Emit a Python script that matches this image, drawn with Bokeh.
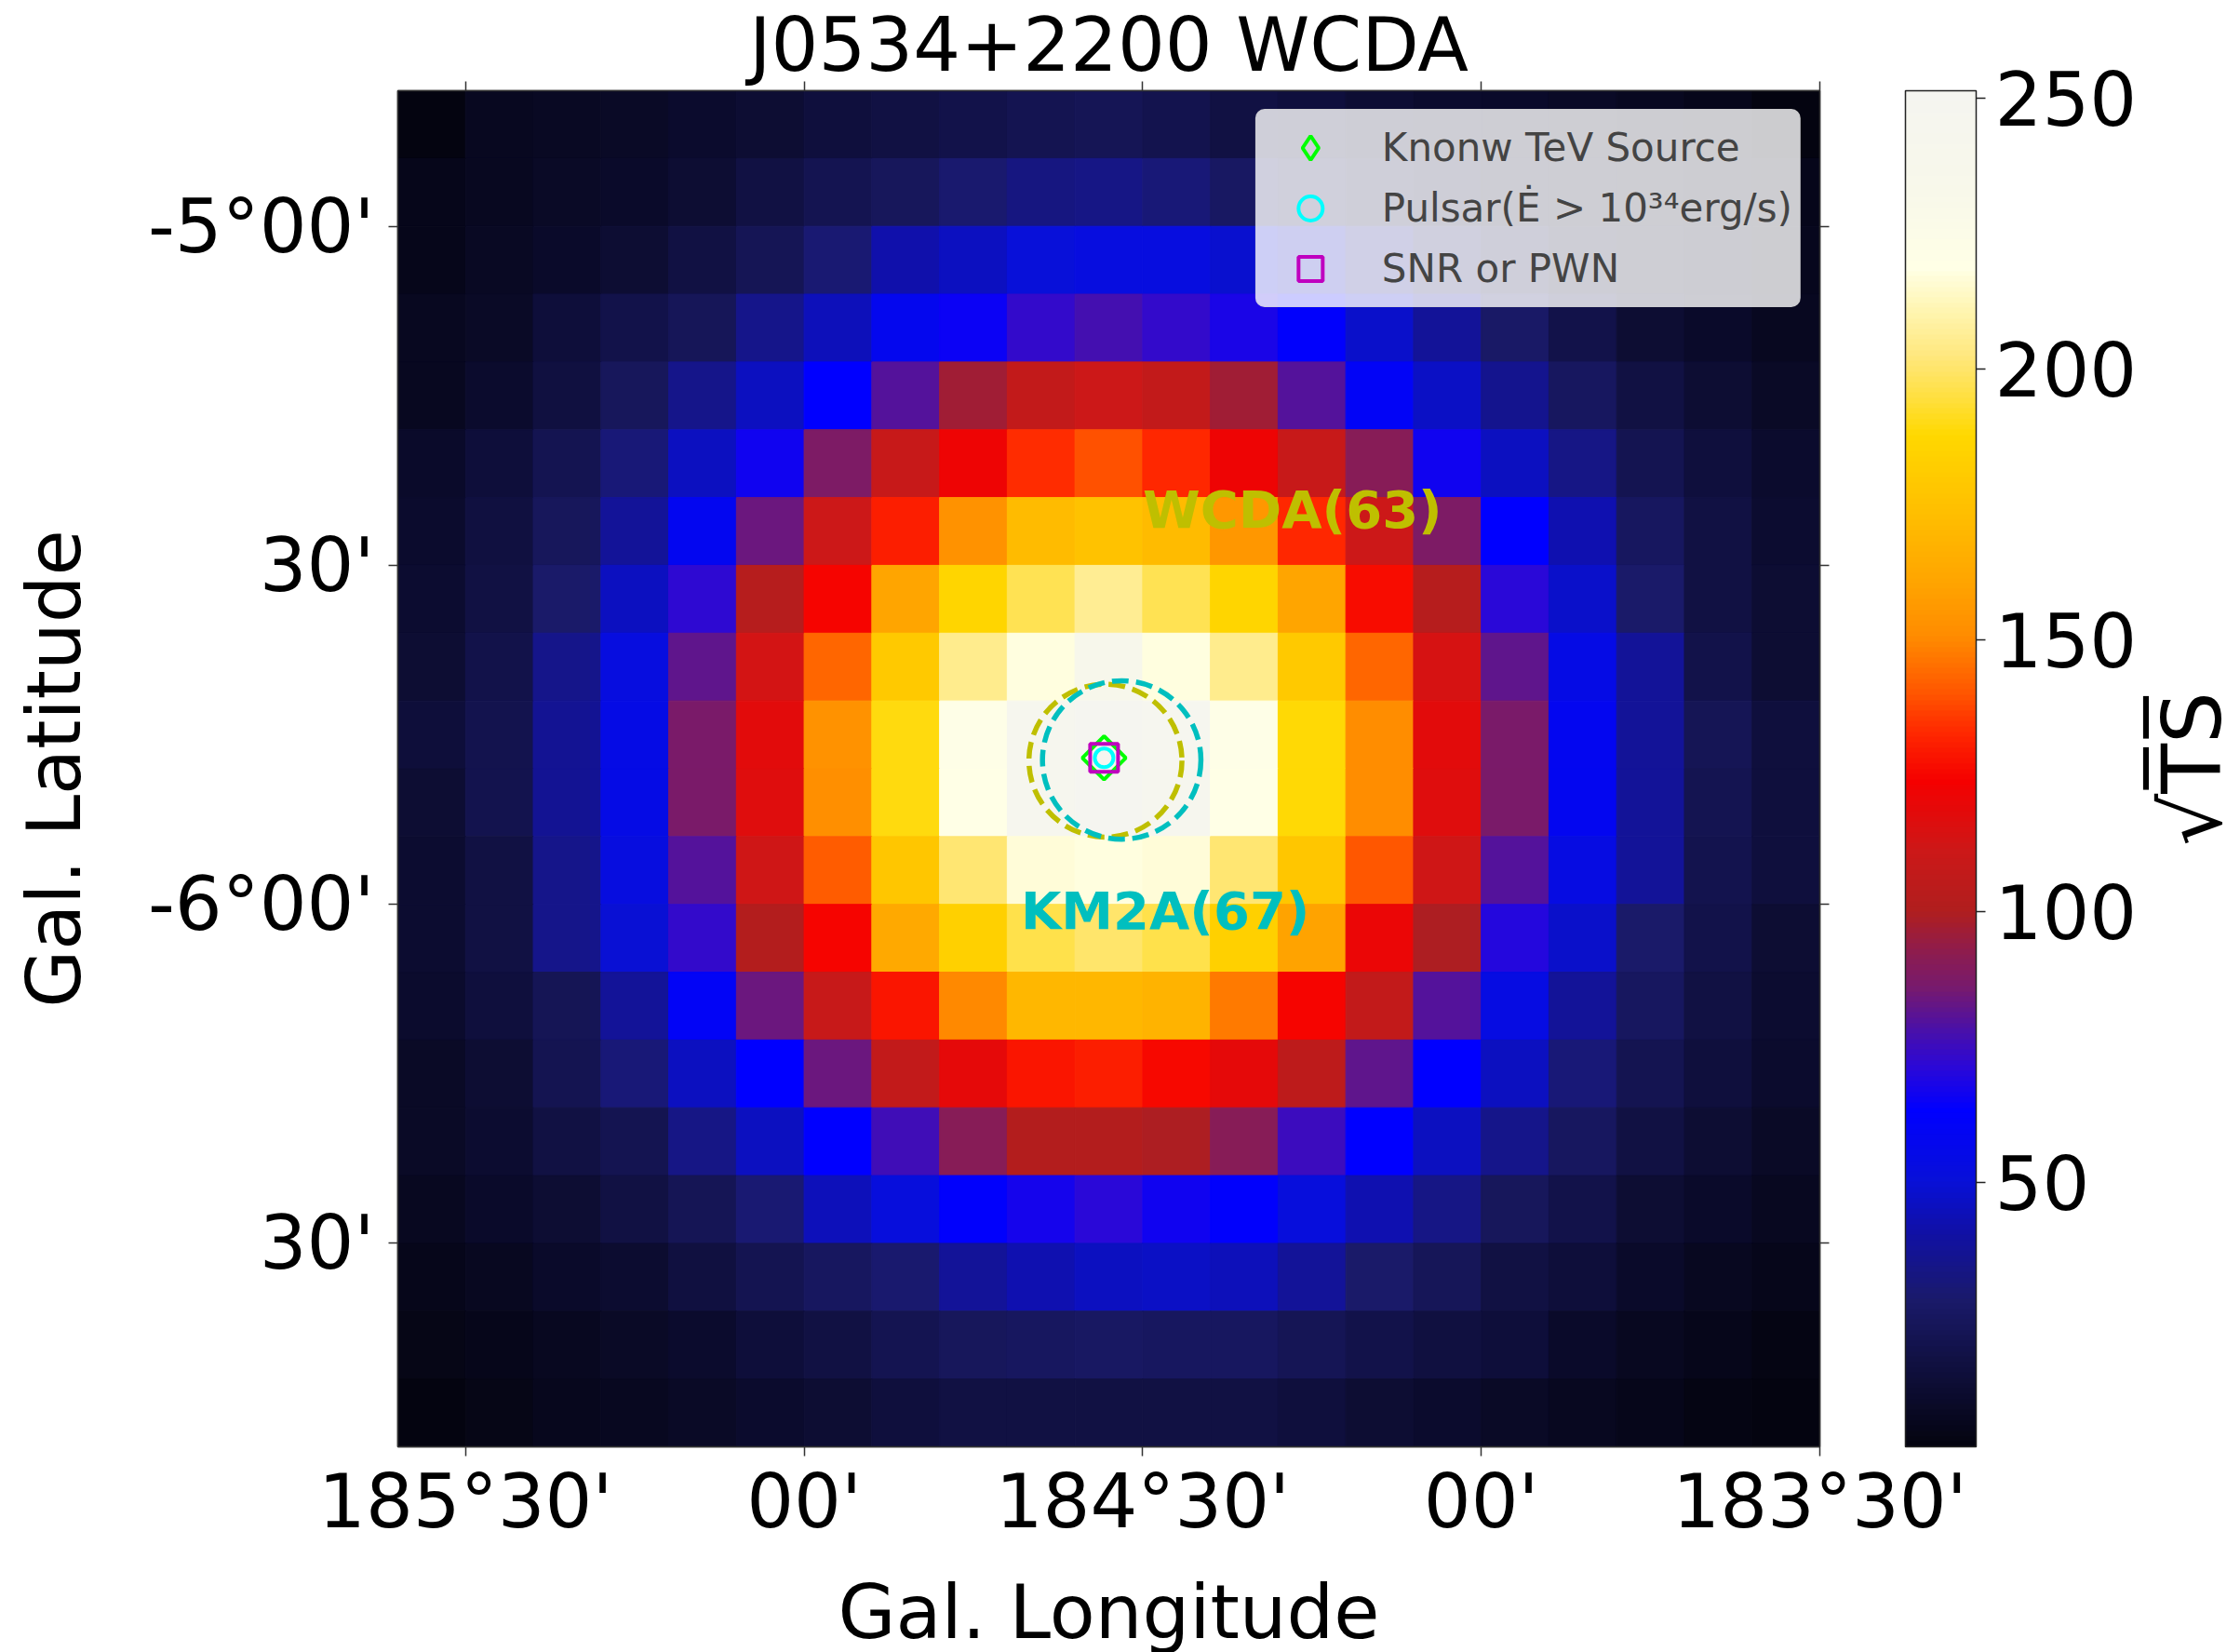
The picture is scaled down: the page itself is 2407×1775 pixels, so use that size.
import numpy as np
from bokeh.plotting import figure
from bokeh.models import (Range1d, FixedTicker, LinearAxis, LinearColorMapper, ColorBar,
                          ColumnDataSource, Legend, LegendItem)
from bokeh.layouts import row
from bokeh.transform import transform
from bokeh.core.properties import value
from bokeh.embed import file_html
from bokeh.resources import INLINE

FONT = "DejaVu Sans"

# ---- map grid: pixel centres (Galactic longitude / latitude, degrees) ----
lon_centers = [185.55, 185.45, 185.35, 185.25, 185.15, 185.05, 184.95, 184.85, 184.75, 184.65,
               184.55, 184.45, 184.35, 184.25, 184.15, 184.05, 183.95, 183.85, 183.75, 183.65, 183.55]
lat_centers = [-4.85, -4.95, -5.05, -5.15, -5.25, -5.35, -5.45, -5.55, -5.65, -5.75,
               -5.85, -5.95, -6.05, -6.15, -6.25, -6.35, -6.45, -6.55, -6.65, -6.75]
pixel_size = 0.1

# sqrt(TS) per pixel, one row per latitude (top to bottom), one column per longitude (left to right)
sqrt_ts = [
    [1.3, 7, 8, 9, 11, 13, 15, 17, 19, 21, 22, 20, 17, 15, 13, 11, 10, 9, 7, 5, 2],
    [5, 7, 9, 10, 13, 17, 21, 24, 29, 33, 34, 31, 26, 21, 17, 14, 11, 10, 9, 7, 5],
    [5, 8, 10, 13, 17, 22, 30, 42, 46, 51, 53, 53, 49, 45, 34, 25, 18, 13, 10, 8, 6],
    [7, 9, 14, 19, 23, 35, 45, 57, 65, 73, 77, 73, 68, 62, 48, 38, 27, 19, 13, 10, 7],
    [7, 11, 16, 24, 35, 46, 63, 80, 97, 107, 111, 107, 97, 80, 60, 47, 36, 25, 17, 13, 9],
    [10, 14, 21, 31, 46, 66, 88, 109, 122, 134, 139, 133, 122, 109, 91, 66, 46, 34, 21, 15, 11],
    [11, 16, 24, 38, 58, 84, 111, 131, 153, 172, 176, 172, 155, 133, 111, 88, 63, 43, 25, 17, 12],
    [12, 17, 28, 46, 72, 102, 125, 161, 186, 197, 206, 197, 186, 161, 127, 102, 71, 48, 28, 17, 13],
    [13, 19, 35, 53, 82, 113, 143, 180, 205, 218, 236, 218, 205, 180, 143, 114, 82, 55, 38, 19, 13],
    [14, 20, 37, 55, 87, 118, 153, 189, 221, 246, 251.3, 247, 221, 188, 151, 118, 87, 58, 38, 22, 15],
    [13, 20, 37, 55, 87, 117, 152, 189, 220, 244, 250, 245, 220, 188, 151, 117, 87, 58, 38, 21, 15],
    [12, 17, 35, 53, 80, 112, 141, 178, 201, 217, 218, 217, 201, 178, 140, 112, 80, 54, 38, 20, 15],
    [12, 17, 35, 50, 73, 101, 125, 163, 183, 196, 200, 196, 183, 160, 121, 99, 70, 48, 28, 19, 13],
    [11, 15, 22, 38, 60, 84, 109, 129, 150, 170, 170, 168, 147, 125, 107, 80, 54, 38, 25, 17, 12],
    [9, 13, 21, 31, 46, 63, 84, 107, 119, 129, 131, 126, 119, 105, 82, 63, 46, 31, 21, 15, 11],
    [9, 12, 17, 21, 34, 46, 63, 76, 91, 101, 101, 99, 91, 75, 63, 46, 35, 25, 17, 13, 9],
    [7, 10, 13, 17, 22, 30, 45, 52, 62, 67, 71, 66, 62, 52, 43, 34, 24, 19, 13, 10, 7],
    [5, 7, 10, 12, 16, 21, 25, 29, 38, 43, 46, 47, 45, 38, 28, 23, 17, 14, 10, 7, 5],
    [4, 5, 7, 9, 11, 14, 17, 21, 24, 25, 26, 25, 25, 22, 19, 16, 14, 10, 7, 5, 3],
    [2, 4, 6, 7, 9, 11, 13, 15, 17, 17, 17, 17, 17, 15, 13, 11, 9, 7, 5, 3, 2],
]

# ---- catalogue counterparts ----
tev_l, tev_b = [184.557], [-5.784]
psr_l, psr_b = [184.557], [-5.784]
snr_l, snr_b = [184.557], [-5.784]

# fitted positions and extents
wcda_l, wcda_b, wcda_r = [184.555], [-5.788], [0.113]
km2a_l, km2a_b, km2a_r = [184.531], [-5.787], [0.117]
wcda_name, km2a_name = "WCDA(63)", "KM2A(67)"
wcda_text_l, wcda_text_b = 184.50, -5.418
km2a_text_l, km2a_text_b = 184.68, -6.009

# ---- axes ----
lon_ticks = [185.5, 185.0, 184.5, 184.0, 183.5]
lon_tick_labels = ["185°30'", "00'", "184°30'", "00'", "183°30'"]
lat_ticks = [-5.0, -5.5, -6.0, -6.5]
lat_tick_labels = ["-5°00'", "30'", "-6°00'", "30'"]
cbar_ticks = [50, 100, 150, 200, 250]
cbar_title = "√T\u0305S\u0305"

# ---- colour scale anchors (value, colour) ----
cmap_vals = [1.3, 16, 28, 41, 50, 63, 71, 78, 86, 92, 100, 111, 124, 133, 141, 151,
             161, 174, 188, 195, 203, 211, 219, 233, 251.3]
cmap_hex = ["#040410", "#101040", "#1a1a6a", "#1010a8", "#0810d8", "#0000ff", "#2a08d8",
            "#4a10a8", "#781a6c", "#8c1c50", "#b01e1e", "#cc1818", "#f50000", "#ff2800",
            "#ff5a00", "#ff8c00", "#ffa500", "#ffbf00", "#ffd800", "#ffe040", "#ffe880",
            "#fff5b0", "#ffffe6", "#f8f8ea", "#f5f5f0"]

# layout in pixels
PAGE_W, PAGE_H = 2407, 1775
FRAME_L, FRAME_T, FRAME_W, FRAME_H = 427, 97, 1528, 1457
BOTTOM = PAGE_H - FRAME_T - FRAME_H
MAIN_RIGHT = 345           # right-hand panels of the map: tick marks + colour bar
CB_GAP = 82                # empty space between the right tick marks and the colour bar
CB_W = 76

grid = np.array(sqrt_ts, dtype=float)
vmin, vmax = float(grid.min()), float(grid.max())


def _rgb(h):
    return [int(h[i:i + 2], 16) for i in (1, 3, 5)]


anchor_rgb = np.array([_rgb(h) for h in cmap_hex], dtype=float)
levels = np.linspace(vmin, vmax, 256)
palette = []
for v in levels:
    r, g, b = (int(round(np.interp(v, cmap_vals, anchor_rgb[:, k]))) for k in range(3))
    palette.append("#%02x%02x%02x" % (r, g, b))

mapper = LinearColorMapper(palette=palette, low=vmin, high=vmax)

xs, ys, vs = [], [], []
for i, lat in enumerate(lat_centers):
    for j, lon in enumerate(lon_centers):
        xs.append(lon)
        ys.append(lat)
        vs.append(sqrt_ts[i][j])
src = ColumnDataSource(dict(x=xs, y=ys, v=vs))

half = pixel_size / 2
x_range = Range1d(lon_centers[0] + half, lon_centers[-1] - half)
y_range = Range1d(lat_centers[-1] - half, lat_centers[0] + half)

p = figure(frame_width=FRAME_W, frame_height=FRAME_H,
           x_range=x_range, y_range=y_range,
           min_border_left=FRAME_L, min_border_top=FRAME_T,
           min_border_bottom=BOTTOM, min_border_right=MAIN_RIGHT,
           output_backend="svg", toolbar_location=None,
           title="J0534+2200 WCDA")
p.background_fill_color = "white"
p.border_fill_color = "white"
p.xgrid.visible = False
p.ygrid.visible = False
p.outline_line_color = "#333333"
p.outline_line_width = 1.5

p.title.align = "center"
p.title.text_font = FONT
p.title.text_font_size = "80px"
p.title.text_font_style = "normal"
p.title.text_color = "black"
p.title.standoff = -14

p.rect(x="x", y="y", width=pixel_size, height=pixel_size, source=src,
       fill_color=transform("v", mapper), line_color=transform("v", mapper),
       line_width=1)

# fitted extents
p.circle(x=wcda_l, y=wcda_b, radius=wcda_r, fill_color=None,
         line_color="#bfbf00", line_width=5.5, line_dash="18 8")
p.circle(x=km2a_l, y=km2a_b, radius=km2a_r, fill_color=None,
         line_color="#00bfbf", line_width=5.5, line_dash="18 8")

# catalogue markers (the TeV source is a square turned by 45 degrees)
p.scatter(x=tev_l, y=tev_b, marker="square", angle=np.pi / 4, size=33, fill_color=None,
          line_color="#00ff00", line_width=4)
r_tev = p.scatter(x=tev_l, y=tev_b, marker="diamond", size=0, fill_color=None,
                  line_color="#00ff00", line_width=4)
r_psr = p.scatter(x=psr_l, y=psr_b, marker="circle", size=20, fill_color=None,
                  line_color="#00ffff", line_width=4)
r_snr = p.scatter(x=snr_l, y=snr_b, marker="square", size=30, fill_color=None,
                  line_color="#bf00bf", line_width=4)

p.text(x=[wcda_text_l], y=[wcda_text_b], text=[wcda_name], text_color="#bfbf00",
       text_font=value(FONT), text_font_style="bold", text_font_size="56px",
       text_align="left", text_baseline="alphabetic")
p.text(x=[km2a_text_l], y=[km2a_text_b], text=[km2a_name], text_color="#00bfbf",
       text_font=value(FONT), text_font_style="bold", text_font_size="56px",
       text_align="left", text_baseline="alphabetic")

legend = Legend(items=[LegendItem(label="Knonw TeV Source", renderers=[r_tev]),
                       LegendItem(label="Pulsar(Ė > 10³⁴erg/s)", renderers=[r_psr]),
                       LegendItem(label="SNR or PWN", renderers=[r_snr])],
                location="top_right", margin=20, padding=8, spacing=0,
                glyph_width=100, glyph_height=65, label_standoff=27,
                label_text_font=FONT, label_text_font_size="42px",
                background_fill_color="white", background_fill_alpha=0.8,
                border_line_color="#cccccc", border_line_width=1.5, border_radius=10)
p.add_layout(legend)


def style_axis(ax, show_labels=True):
    ax.major_tick_out = 10
    ax.major_tick_in = 0
    ax.minor_tick_out = 0
    ax.minor_tick_in = 0
    ax.major_tick_line_color = "#333333"
    ax.major_tick_line_width = 1.5
    ax.axis_line_color = "#333333"
    ax.axis_line_width = 1.5
    ax.major_label_text_font = FONT
    ax.axis_label_text_font = FONT
    ax.axis_label_text_font_style = "normal"
    ax.axis_label_text_color = "black"
    if show_labels:
        ax.major_label_text_color = "black"
        ax.major_label_text_font_size = "80px"
        ax.axis_label_text_font_size = "80px"
    else:
        # tick marks only on this side
        ax.major_label_text_color = None
        ax.major_label_text_font_size = "1px"
        ax.major_label_standoff = 0


xax = p.xaxis[0]
xax.ticker = FixedTicker(ticks=lon_ticks)
xax.major_label_overrides = dict(zip(lon_ticks, lon_tick_labels))
xax.axis_label = "Gal. Longitude"
style_axis(xax)
xax.major_label_standoff = 2
xax.axis_label_standoff = 23

yax = p.yaxis[0]
yax.ticker = FixedTicker(ticks=lat_ticks)
yax.major_label_overrides = dict(zip(lat_ticks, lat_tick_labels))
yax.axis_label = "Gal. Latitude"
style_axis(yax)
yax.major_label_standoff = 15
yax.axis_label_standoff = 51

top_ax = LinearAxis(ticker=FixedTicker(ticks=lon_ticks))
style_axis(top_ax, show_labels=False)
p.add_layout(top_ax, "above")
right_ax = LinearAxis(ticker=FixedTicker(ticks=lat_ticks))
style_axis(right_ax, show_labels=False)
p.add_layout(right_ax, "right")

# blank gutter between the map and the colour bar
gutter = LinearAxis(ticker=FixedTicker(ticks=lat_ticks))
style_axis(gutter, show_labels=False)
gutter.major_tick_out = CB_GAP
gutter.major_tick_line_color = None
gutter.axis_line_color = None
p.add_layout(gutter, "right")

# ---- colour bar ----
color_bar = ColorBar(color_mapper=mapper, ticker=FixedTicker(ticks=cbar_ticks),
                     width=CB_W, height=FRAME_H, padding=0, margin=0,
                     location="top_right", orientation="vertical",
                     major_label_text_font=FONT, major_label_text_font_size="80px",
                     major_label_text_color="black", label_standoff=10,
                     major_tick_out=10, major_tick_in=0,
                     major_tick_line_color="#222222", major_tick_line_width=1.5,
                     minor_tick_line_color=None,
                     bar_line_color="#222222", bar_line_width=1.5,
                     border_line_color=None, background_fill_color=None)
p.add_layout(color_bar, "right")

# ---- colour-bar title: a bare vertical axis label in a narrow strip at the right edge ----
strip = figure(frame_width=1, frame_height=FRAME_H,
               x_range=Range1d(0, 1), y_range=Range1d(0, 1),
               x_axis_location=None, y_axis_location="left",
               min_border_left=0, min_border_right=0,
               min_border_top=FRAME_T, min_border_bottom=BOTTOM,
               output_backend="svg", toolbar_location=None)
strip.outline_line_color = None
strip.xgrid.visible = False
strip.ygrid.visible = False
cb_title_ax = strip.yaxis[0]
cb_title_ax.ticker = FixedTicker(ticks=[])
cb_title_ax.axis_line_color = None
cb_title_ax.major_tick_line_color = None
cb_title_ax.minor_tick_line_color = None
cb_title_ax.major_tick_out = 0
cb_title_ax.major_tick_in = 0
cb_title_ax.minor_tick_out = 0
cb_title_ax.minor_tick_in = 0
cb_title_ax.major_label_text_color = None
cb_title_ax.major_label_text_font_size = "1px"
cb_title_ax.major_label_standoff = 0
cb_title_ax.axis_label = cbar_title
cb_title_ax.axis_label_standoff = 0
cb_title_ax.axis_label_text_font = FONT
cb_title_ax.axis_label_text_font_size = "88px"
cb_title_ax.axis_label_text_font_style = "normal"
cb_title_ax.axis_label_text_color = "black"

layout = row(p, strip)
open("out.html", "w").write(file_html(layout, INLINE))
